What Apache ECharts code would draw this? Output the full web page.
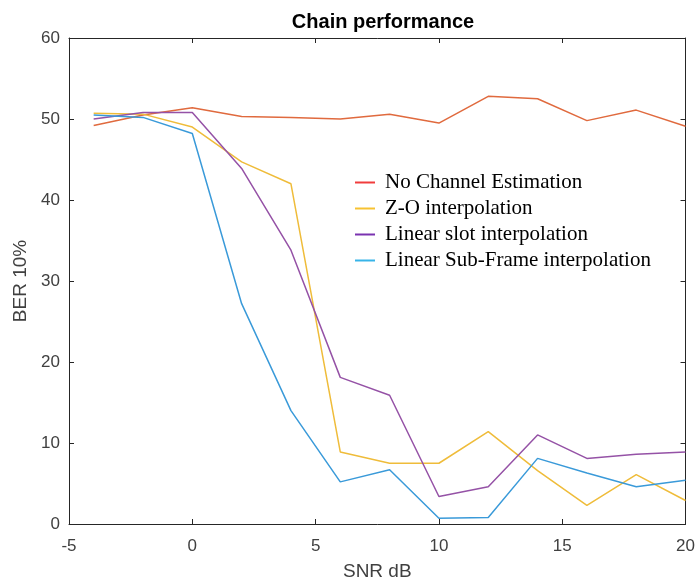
<!DOCTYPE html>
<html>
<head>
<meta charset="utf-8">
<script src="https://cdn.jsdelivr.net/npm/echarts@6/dist/echarts.min.js"></script>
<style>html,body{margin:0;padding:0;background:#fff}#c{width:698px;height:586px}</style>
</head>
<body>
<div id="c"></div>
<script>
const snr = [-4, -2, 0, 2, 4, 6, 8, 10, 12, 14, 16, 18, 20];
const noChannel = [49.2, 50.5, 51.4, 50.3, 50.2, 50.0, 50.6, 49.5, 52.8, 52.5, 49.8, 51.1, 49.1];
const zoInterp = [50.7, 50.6, 49.0, 44.7, 42.0, 8.9, 7.5, 7.5, 11.4, 6.6, 2.3, 6.1, 2.9];
const linearSlot = [50.0, 50.8, 50.8, 43.9, 33.8, 18.1, 15.9, 3.4, 4.6, 11.0, 8.1, 8.6, 8.9];
const linearSubFrame = [50.5, 50.2, 48.2, 27.2, 14.0, 5.2, 6.7, 0.7, 0.8, 8.1, 6.3, 4.6, 5.4];
const seriesNames = ['No Channel Estimation', 'Z-O interpolation', 'Linear slot interpolation', 'Linear Sub-Frame interpolation'];
const xTicks = [-5, 0, 5, 10, 15, 20];
const yTicks = [0, 10, 20, 30, 40, 50, 60];

const lineColors = ['#E06A3E', '#EFBC3A', '#9552A6', '#3A9AD9'];
const legendColors = ['#F03C3C', '#F7C232', '#7A33B0', '#38B4E8'];
const values = [noChannel, zoInterp, linearSlot, linearSubFrame];

const sansFont = 'Liberation Sans, Arial, Helvetica, sans-serif';
const axisColor = '#262626';

const chart = echarts.init(document.getElementById('c'), null, {renderer: 'canvas'});
const baseAxis = {
  axisLine: {show: true, onZero: false, lineStyle: {color: axisColor, width: 1}},
  axisTick: {show: true, inside: true, length: 5, lineStyle: {color: axisColor}},
  splitLine: {show: false},
  nameTextStyle: {fontFamily: sansFont, fontSize: 19, color: '#404040'}
};
chart.setOption({
  animation: false,
  backgroundColor: '#ffffff',
  title: {
    text: 'Chain performance',
    left: 378, top: 7, textAlign: 'center',
    textStyle: {fontFamily: sansFont, fontSize: 20, fontWeight: 'bold', color: '#000'}
  },
  grid: {left: 69, right: 11, top: 38, bottom: 59, containLabel: false},
  legend: {
    orient: 'vertical', left: 350, top: 167,
    itemWidth: 20, itemHeight: 12, itemGap: 5,
    icon: 'path://M0,5 L20,5 L20,7 L0,7 Z',
    textStyle: {fontFamily: 'Liberation Serif, Times New Roman, serif', fontSize: 21, lineHeight: 21, color: '#000', padding: [0, 0, 0, 5]},
    data: seriesNames.map((n, i) => ({name: n, itemStyle: {color: legendColors[i]}}))
  },
  xAxis: [
    Object.assign({}, baseAxis, {
      type: 'value', min: -5, max: 20, interval: 5, position: 'bottom',
      name: 'SNR dB', nameLocation: 'middle', nameGap: 38,
      axisLabel: {fontFamily: sansFont, fontSize: 17, color: '#404040', margin: 14,
        formatter: v => xTicks.includes(v) ? String(v) : ''}
    }),
    Object.assign({}, baseAxis, {
      type: 'value', min: -5, max: 20, interval: 5, position: 'top',
      axisLabel: {show: false}
    })
  ],
  yAxis: [
    Object.assign({}, baseAxis, {
      type: 'value', min: 0, max: 60, interval: 10, position: 'left',
      name: 'BER 10%', nameLocation: 'middle', nameGap: 37, nameRotate: 90,
      axisLabel: {fontFamily: sansFont, fontSize: 17, color: '#404040', margin: 9,
        padding: [5, 0, 0, 0],
        formatter: v => yTicks.includes(v) ? String(v) : ''}
    }),
    Object.assign({}, baseAxis, {
      type: 'value', min: 0, max: 60, interval: 10, position: 'right',
      axisLabel: {show: false}
    })
  ],
  series: seriesNames.map((n, i) => ({
    name: n, type: 'line', xAxisIndex: 0, yAxisIndex: 0,
    symbol: 'none', smooth: false,
    lineStyle: {color: lineColors[i], width: 1.5},
    itemStyle: {color: lineColors[i]},
    data: snr.map((x, j) => [x, values[i][j]])
  }))
});
</script>
</body>
</html>
